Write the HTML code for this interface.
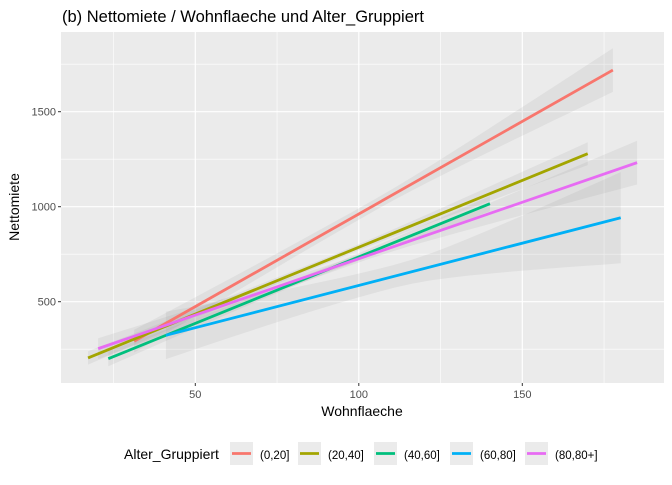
<!DOCTYPE html>
<html><head><meta charset="utf-8"><style>
body{margin:0;background:#fff;font-family:"Liberation Sans",sans-serif}
</style></head><body>
<svg id="c" width="672" height="480" xmlns="http://www.w3.org/2000/svg" style="font-family:'Liberation Sans',sans-serif">
<text x="62" y="22" font-size="16.5" fill="#000">(b) Nettomiete / Wohnflaeche und Alter_Gruppiert</text>
<text x="362" y="416" font-size="14" text-anchor="middle">Wohnflaeche</text>
<text transform="translate(19,207) rotate(-90)" font-size="14" text-anchor="middle">Nettomiete</text>
</svg>
<script>
const categories=["(0,20]","(20,40]","(40,60]","(60,80]","(80,80+]"];
const colors=["#F8766D","#A3A500","#00BF7D","#00B0F6","#E76BF3"];
const xStart=[31.3,17.2,23.4,41,20.3];
const xEnd=[177.7,170,140.1,180.1,185.1];
const yStart=[292,204,200,323,253];
const yEnd=[1719,1279,1016,942,1232];
const seStart=[60,35,40,125,55];
const seMid=[30,15,15,60,20];
const seEnd=[115,60,40,240,115];
const xTicks=[50,100,150];
const yTicks=[500,1000,1500];
const xMinor=[25,75,125,175];
const yMinor=[250,750,1250,1750];
const L=61,R=664,T=32,B=383;
function X(v){return 195.3+(v-50)*3.27;}
function Y(v){return 206.7-(v-1000)*0.19;}
const svg=document.getElementById('c');
const NS="http://www.w3.org/2000/svg";
function mk(t,a){const e=document.createElementNS(NS,t);for(const k in a)e.setAttribute(k,a[k]);svg.appendChild(e);return e;}
let e=mk('rect',{x:L,y:T,width:R-L,height:B-T,fill:'#EBEBEB'});


xMinor.forEach(v=>{const g=mk('line',{x1:X(v),x2:X(v),y1:T,y2:B,stroke:'#fff','stroke-width':0.6});

});
yMinor.forEach(v=>{const g=mk('line',{x1:L,x2:R,y1:Y(v),y2:Y(v),stroke:'#fff','stroke-width':0.6});

});
xTicks.forEach(v=>{const g=mk('line',{x1:X(v),x2:X(v),y1:T,y2:B,stroke:'#fff','stroke-width':1.2});


const t=mk('line',{x1:X(v),x2:X(v),y1:B,y2:B+3,stroke:'#333','stroke-width':1});


const l=mk('text',{x:X(v),y:B+15,'font-size':11,fill:'#4D4D4D','text-anchor':'middle'});l.textContent=v;

});
yTicks.forEach(v=>{const g=mk('line',{x1:L,x2:R,y1:Y(v),y2:Y(v),stroke:'#fff','stroke-width':1.2});


const t=mk('line',{x1:L-3,x2:L,y1:Y(v),y2:Y(v),stroke:'#333','stroke-width':1});


const l=mk('text',{x:L-5,y:Y(v)+4,'font-size':11,fill:'#4D4D4D','text-anchor':'end'});l.textContent=v;

});
function se(i,x){const xm=(xStart[i]+xEnd[i])/2,h=(xEnd[i]-xStart[i])/2;const u=(x-xm)/h;
const a=seMid[i],b=(u<0?seStart[i]:seEnd[i]);return Math.sqrt(a*a+(b*b-a*a)*u*u);}
categories.forEach((c,i)=>{const N=24;let up=[],lo=[];
for(let k=0;k<=N;k++){const x=xStart[i]+(xEnd[i]-xStart[i])*k/N;const y=yStart[i]+(yEnd[i]-yStart[i])*k/N;const s=se(i,x);
up.push(X(x).toFixed(1)+','+Y(y+s).toFixed(1));lo.unshift(X(x).toFixed(1)+','+Y(y-s).toFixed(1));}
const r=mk('polygon',{points:up.concat(lo).join(' '),fill:'#999','fill-opacity':0.15});

});
categories.forEach((c,i)=>{const l=mk('line',{x1:X(xStart[i]),y1:Y(yStart[i]),x2:X(xEnd[i]),y2:Y(yEnd[i]),stroke:colors[i],'stroke-width':2.8});

});
const lt=mk('text',{x:124,y:459,'font-size':14});lt.textContent='Alter_Gruppiert';


const kx=[230,298,374,450,525];
categories.forEach((c,i)=>{const b=mk('rect',{x:kx[i],y:442,width:23,height:23,fill:'#EBEBEB'});


const l=mk('line',{x1:kx[i]+2,x2:kx[i]+21,y1:453.5,y2:453.5,stroke:colors[i],'stroke-width':2.8});


const t=mk('text',{x:kx[i]+30,y:459,'font-size':11.5,fill:'#000'});t.textContent=c;

});
</script>
</body></html>
